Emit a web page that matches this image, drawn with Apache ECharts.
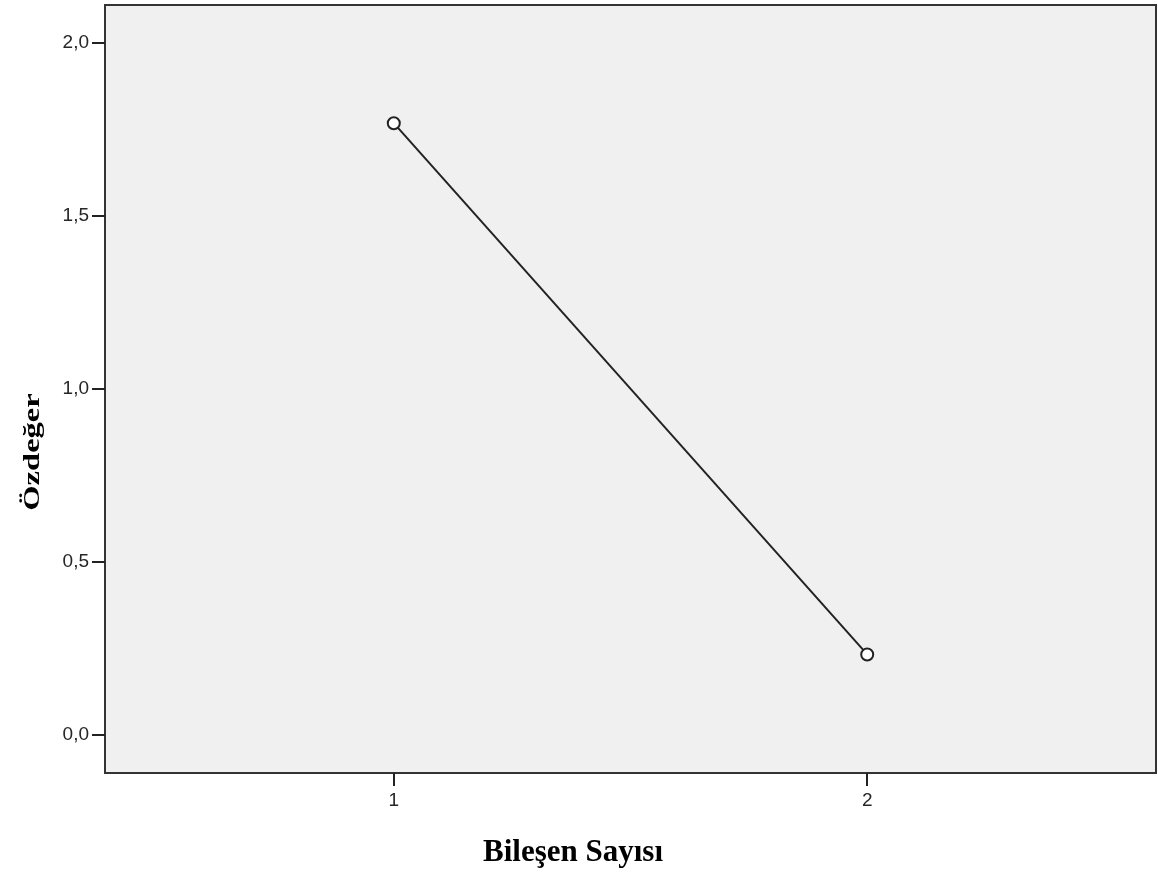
<!DOCTYPE html>
<html>
<head>
<meta charset="utf-8">
<script src="https://cdn.jsdelivr.net/npm/echarts@6/dist/echarts.min.js"></script>
<style>
html,body{margin:0;padding:0;background:#fff;}
#chart{width:1158px;height:876px;}
</style>
</head>
<body>
<div id="chart"></div>
<script>
var components = [1, 2];
var eigenvalues = [1.768, 0.231];
var xTicks = [1, 2];
var yTicks = [0, 0.5, 1.0, 1.5, 2.0];
var xTitle = 'Bileşen Sayısı';
var yTitle = 'Özdeğer';

var points = components.map(function (c, i) { return [c, eigenvalues[i]]; });

var chart = echarts.init(document.getElementById('chart'));
chart.setOption({
  animation: false,
  grid: {
    left: 105, right: 2, top: 5, bottom: 103,
    show: true, backgroundColor: '#f0f0f0', borderColor: '#333', borderWidth: 2
  },
  graphic: [
    {
      type: 'text', x: 573, y: 853,
      style: {
        text: xTitle, fontFamily: 'Liberation Serif', fontWeight: 'bold', fontSize: 31,
        fill: '#000', align: 'center', verticalAlign: 'middle'
      }
    },
    {
      type: 'text', x: 33, y: 452, rotation: Math.PI / 2, scaleX: 1.55, scaleY: 1.05,
      style: {
        text: yTitle, fontFamily: 'Liberation Serif', fontWeight: 'bold', fontSize: 21,
        fill: '#000', align: 'center', verticalAlign: 'middle'
      }
    }
  ],
  xAxis: {
    type: 'value', min: 0.39, max: 2.61,
    axisLine: { show: false, onZero: false },
    splitLine: { show: false },
    axisTick: { show: true, customValues: xTicks, length: 13, lineStyle: { color: '#222', width: 2 } },
    axisLabel: { customValues: xTicks, margin: 18, fontFamily: 'Liberation Sans', fontSize: 19, color: '#262626' }
  },
  yAxis: {
    type: 'value', min: -0.112, max: 2.11,
    axisLine: { show: false, onZero: false },
    splitLine: { show: false },
    axisTick: { show: true, customValues: yTicks, length: 13, lineStyle: { color: '#222', width: 2 } },
    axisLabel: {
      customValues: yTicks, margin: 16, fontFamily: 'Liberation Sans', fontSize: 19, color: '#262626',
      formatter: function (v) { return v.toFixed(1).replace('.', ','); }
    }
  },
  series: [{
    type: 'line',
    data: points,
    symbol: 'emptyCircle',
    symbolSize: 12,
    lineStyle: { color: '#222', width: 2 },
    itemStyle: { color: '#222', borderColor: '#222', borderWidth: 2 },
    z: 5
  }]
});
</script>
</body>
</html>
